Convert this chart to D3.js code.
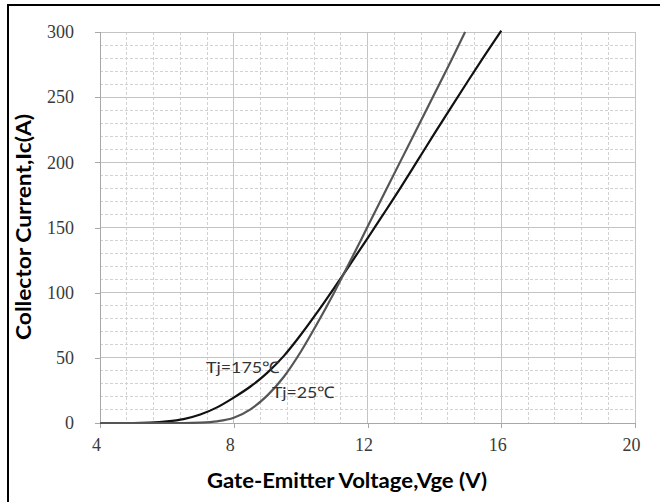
<!DOCTYPE html>
<html><head><meta charset="utf-8">
<script src="https://cdn.jsdelivr.net/npm/d3@7"></script>
<style>body{margin:0;background:#fff}svg{display:block}</style>
</head><body>
<script>
const vge175 = [4, 5, 5.5, 6, 6.5, 7, 7.5, 8, 8.5, 9, 9.5, 10, 10.5, 11, 11.5, 12, 12.5, 13, 13.5, 14, 14.5, 15, 15.5, 16];
const ic175  = [0, 0, 0.3, 1.2, 3, 6.5, 12, 19.5, 28, 38.5, 51.5, 67.5, 85, 103.5, 122.5, 141.7, 161.2, 181, 201.5, 222, 242.2, 262.2, 281.8, 301];
const vge25  = [4, 6.5, 7, 7.5, 8, 8.5, 9, 9.5, 10, 10.5, 11, 11.5, 12, 12.5, 13, 13.5, 14, 14.5, 14.92];
const ic25   = [0, 0, 0.3, 1.3, 4, 10.5, 21, 35.5, 54.5, 76.5, 100, 125, 150.5, 176, 201.5, 227, 252.5, 278, 300];
const xTicks = [4, 8, 12, 16, 20];
const yTicks = [0, 50, 100, 150, 200, 250, 300];
const xLabel = "Gate-Emitter Voltage,Vge (V)";
const yLabel = "Collector Current,Ic(A)";
const seriesLabels = ["Tj=175℃", "Tj=25℃"];

const W = 660, H = 502;
const svg = d3.select("body").append("svg").attr("width", W).attr("height", H);
const x = d3.scaleLinear().domain([4, 20]).range([100, 635]);
const y = d3.scaleLinear().domain([0, 300]).range([423, 32]);

// frame
svg.append("rect").attr("x", 8).attr("y", 5).attr("width", 700).attr("height", 600)
  .attr("fill", "none").attr("stroke", "#000").attr("stroke-width", 2);

// grid
const g = svg.append("g");
d3.range(4, 20.01, 0.8).forEach(v => {
  const major = xTicks.some(t => Math.abs(t - v) < 1e-6);
  g.append("line").attr("x1", x(v)).attr("x2", x(v)).attr("y1", y(300)).attr("y2", y(0))
    .attr("stroke", major ? "#c4c4c4" : "#d2d2d2").attr("stroke-width", 1)
    .attr("stroke-dasharray", major ? null : "3,2").attr("shape-rendering", "crispEdges");
});
d3.range(0, 300.01, 10).forEach(v => {
  const major = v % 50 === 0;
  g.append("line").attr("x1", x(4)).attr("x2", x(20)).attr("y1", y(v)).attr("y2", y(v))
    .attr("stroke", major ? "#c4c4c4" : "#d2d2d2").attr("stroke-width", 1)
    .attr("stroke-dasharray", major ? null : "3,2").attr("shape-rendering", "crispEdges");
});

// axes
const xAxis = svg.append("g").attr("transform", `translate(0,${y(0)})`)
  .call(d3.axisBottom(x).tickValues(xTicks).tickSize(5).tickPadding(10));
const yAxis = svg.append("g").attr("transform", `translate(${x(4)},0)`)
  .call(d3.axisLeft(y).tickValues(yTicks).tickSize(5).tickPadding(21));
[xAxis, yAxis].forEach(a => {
  a.select(".domain").attr("stroke", "#a8a8a8").attr("shape-rendering", "crispEdges");
  a.selectAll(".tick line").attr("stroke", "#a8a8a8").attr("shape-rendering", "crispEdges");
  a.selectAll(".tick text").attr("font-family", "'Liberation Serif','DejaVu Serif',serif")
    .attr("font-size", 18).attr("fill", "#3a3a3a");
});
xAxis.selectAll(".tick text").attr("dx", -4);

// curves
const line = d3.line().x(d => x(d[0])).y(d => y(d[1])).curve(d3.curveMonotoneX);
svg.append("path").datum(d3.zip(vge175, ic175)).attr("d", line)
  .attr("fill", "none").attr("stroke", "#111").attr("stroke-width", 2.2);
svg.append("path").datum(d3.zip(vge25, ic25)).attr("d", line)
  .attr("fill", "none").attr("stroke", "#555").attr("stroke-width", 2.2);

// series labels
const lf = "Lato,'Open Sans','Liberation Sans',sans-serif";
svg.append("text").attr("x", 206).attr("y", 373).text(seriesLabels[0])
  .attr("font-family", lf).attr("font-size", 16).attr("fill", "#333")
  .attr("textLength", 74).attr("lengthAdjust", "spacingAndGlyphs");
svg.append("text").attr("x", 272).attr("y", 398).text(seriesLabels[1])
  .attr("font-family", lf).attr("font-size", 16).attr("fill", "#333")
  .attr("textLength", 63).attr("lengthAdjust", "spacingAndGlyphs");

// axis titles
const tf = "Lato,'Open Sans','Liberation Sans',sans-serif";
svg.append("text").attr("x", 347).attr("y", 488).attr("text-anchor", "middle").text(xLabel)
  .attr("font-family", tf).attr("font-weight", "bold").attr("font-size", 20).attr("fill", "#000")
  .attr("textLength", 280).attr("lengthAdjust", "spacingAndGlyphs");
svg.append("text").attr("transform", "translate(31,227) rotate(-90)").attr("text-anchor", "middle").text(yLabel)
  .attr("font-family", tf).attr("font-weight", "bold").attr("font-size", 20).attr("fill", "#000")
  .attr("textLength", 226).attr("lengthAdjust", "spacingAndGlyphs");
</script>
</body></html>
